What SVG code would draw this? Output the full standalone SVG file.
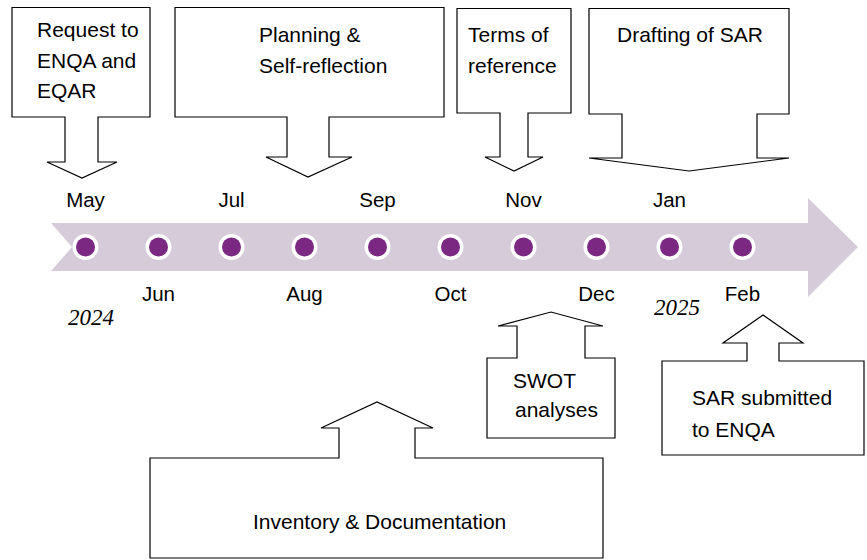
<svg xmlns="http://www.w3.org/2000/svg" width="867" height="560" viewBox="0 0 867 560">
<style>
.box{fill:#fff;stroke:#000;stroke-width:1.2;stroke-linejoin:miter}
.t{font-family:"Liberation Sans",Arial,sans-serif;font-size:21px;fill:#000}
.m{font-family:"Liberation Sans",Arial,sans-serif;font-size:20.5px;fill:#000;text-anchor:middle}
.y{font-family:"Liberation Serif","Times New Roman",serif;font-style:italic;font-size:23px;fill:#000}
.ring{fill:#fff}
.dot{fill:#7a2882}
</style>
<rect width="867" height="560" fill="#fff"/>
<g id="timeline">
<path d="M51,223 H808 V198 L858,247 L808,297 V271 H51 L72,247 Z" fill="#d6ccd9"/>
<g id="dots">
<circle class="ring" cx="85.5" cy="247" r="13"/><circle class="dot" cx="85.5" cy="247" r="9.5"/>
<circle class="ring" cx="158.5" cy="247" r="13"/><circle class="dot" cx="158.5" cy="247" r="9.5"/>
<circle class="ring" cx="231.5" cy="247" r="13"/><circle class="dot" cx="231.5" cy="247" r="9.5"/>
<circle class="ring" cx="304.5" cy="247" r="13"/><circle class="dot" cx="304.5" cy="247" r="9.5"/>
<circle class="ring" cx="377.5" cy="247" r="13"/><circle class="dot" cx="377.5" cy="247" r="9.5"/>
<circle class="ring" cx="450.5" cy="247" r="13"/><circle class="dot" cx="450.5" cy="247" r="9.5"/>
<circle class="ring" cx="523.5" cy="247" r="13"/><circle class="dot" cx="523.5" cy="247" r="9.5"/>
<circle class="ring" cx="596.5" cy="247" r="13"/><circle class="dot" cx="596.5" cy="247" r="9.5"/>
<circle class="ring" cx="669.5" cy="247" r="13"/><circle class="dot" cx="669.5" cy="247" r="9.5"/>
<circle class="ring" cx="742.5" cy="247" r="13"/><circle class="dot" cx="742.5" cy="247" r="9.5"/>
</g>
<g id="months">
<text class="m" x="85.5" y="207">May</text>
<text class="m" x="231.5" y="207">Jul</text>
<text class="m" x="377.5" y="207">Sep</text>
<text class="m" x="523.5" y="207">Nov</text>
<text class="m" x="669.5" y="207">Jan</text>
<text class="m" x="158.5" y="301">Jun</text>
<text class="m" x="304.5" y="301">Aug</text>
<text class="m" x="450.5" y="301">Oct</text>
<text class="m" x="596.5" y="301">Dec</text>
<text class="m" x="742.5" y="301">Feb</text>
</g>
<text class="y" x="68" y="325">2024</text>
<text class="y" x="654" y="315">2025</text>
</g>
<g id="connectors"></g>
<g id="request">
<path class="box" d="M12,7.5 H150 V117 H98 V162 H117 L82,178 L47,162 H65 V117 H12 Z"/>
<text class="t" x="37" y="37">Request to</text>
<text class="t" x="37" y="68">ENQA and</text>
<text class="t" x="37" y="98">EQAR</text>
</g>
<g id="planning">
<path class="box" d="M175,7.5 H444 V117 H329 V157 H352 L308,177 L266,157 H287 V117 H175 Z"/>
<text class="t" x="259" y="42">Planning &amp;</text>
<text class="t" x="259" y="73">Self-reflection</text>
</g>
<g id="terms">
<path class="box" d="M457,8.5 H571 V113 H528 V157 H543 L514,171 L485,157 H500 V113 H457 Z"/>
<text class="t" x="468" y="42">Terms of</text>
<text class="t" x="468" y="73">reference</text>
</g>
<g id="drafting">
<path class="box" d="M589,8.5 H789 V114 H757 V158 H789 L689,171 L589,158 H622 V114 H589 Z"/>
<text class="t" x="617" y="42">Drafting of SAR</text>
</g>
<g id="swot">
<path class="box" d="M487,438 V358 H517 V326 H498 L551,312 L603,326 H585 V358 H615 V438 Z"/>
<text class="t" x="513" y="388">SWOT</text>
<text class="t" x="515" y="417">analyses</text>
</g>
<g id="submitted">
<path class="box" d="M662,455 V361 H747 V343 H723 L763,315 L803,343 H779 V361 H864 V455 Z"/>
<text class="t" x="692" y="405">SAR submitted</text>
<text class="t" x="692" y="437">to ENQA</text>
</g>
<g id="inventory">
<path class="box" d="M150,558 V458 H339 V428 H321 L377,402 L433,428 H415 V458 H603 V558 Z"/>
<text class="t" x="253" y="529">Inventory &amp; Documentation</text>
</g>
</svg>
